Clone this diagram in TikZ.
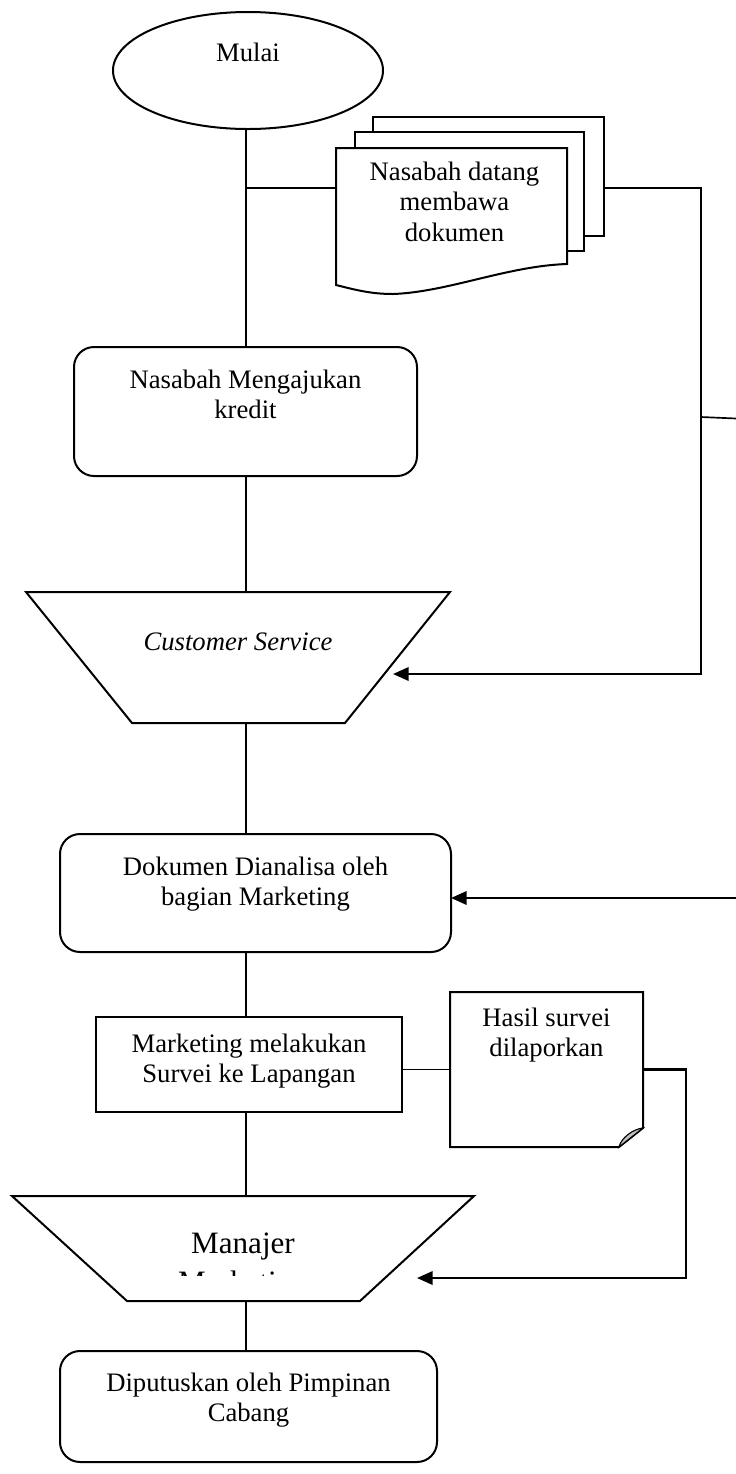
\documentclass[tikz,border=0pt]{standalone}
\usepackage{fontspec}
\setmainfont{Liberation Serif}
\usetikzlibrary{shapes.geometric, arrows.meta, positioning, calc}
\newcommand{\px}{0.45pt}
\tikzset{
    garis/.style={draw, line width=0.75pt},
    alur/.style={draw, line width=1pt, -{Triangle[length=7pt, width=6pt]}},
    bentuk/.style={draw, line width=0.9pt, fill=white, inner sep=0pt, outer sep=0pt},
    terminal/.style={bentuk, ellipse},
    proses/.style={bentuk, rectangle, rounded corners=9pt},
    kotak/.style={bentuk, rectangle},
    bingkai/.style={rectangle, inner sep=0pt, outer sep=0pt},
    lipat/.style={draw, line width=0.5pt, fill=black!25},
    teks/.style={inner sep=0pt, outer sep=0pt, align=center, font=\fontsize{12}{13.7}\selectfont}
}
\begin{document}
\begin{tikzpicture}[x=0.45pt, y=-0.45pt]
    \useasboundingbox (0,0) rectangle (736,1474);

    \node [terminal, minimum width=270*\px, minimum height=117*\px] (mulai) at (248,70.5) {};

    % tumpukan dokumen
    \node [kotak, minimum width=231*\px, minimum height=119*\px] (dokC) at (488.5,176.5) {};
    \node [kotak, minimum width=229*\px, minimum height=119*\px] (dokB) at (469.5,191.5) {};
    \node [bingkai, minimum width=231*\px, minimum height=137*\px] (dokumen) at (451.5,216.5) {};
    \draw [bentuk] (dokumen.north west) -- (dokumen.north east) -- ++(0,116)
        .. controls +(-60,2) and +(55,-2) .. ++(-174,30)
        .. controls +(-22,0) and +(20,5) .. (dokumen.south west) -- cycle;

    \node [proses, minimum width=343*\px, minimum height=129*\px] (ajukan) at (245.5,411.5) {};

    % input manual (customer service)
    \node [bingkai, minimum width=424*\px, minimum height=131*\px] (cs) at (238,657.5) {};
    \draw [bentuk] (cs.north west) -- (cs.north east) -- ($(cs.south east)+(-105,0)$)
        -- ($(cs.south west)+(106,0)$) -- cycle;

    \node [proses, minimum width=391*\px, minimum height=118*\px] (analisa) at (255.5,893) {};
    \node [kotak, minimum width=306*\px, minimum height=95*\px] (survei) at (249,1064.5) {};

    % catatan hasil survei
    \node [bingkai, minimum width=193*\px, minimum height=155*\px] (hasil) at (546.5,1069.5) {};
    \draw [bentuk] (hasil.north west) -- (hasil.north east) -- ++(0,136) -- ++(-24,19) -- (hasil.south west) -- cycle;
    \draw [lipat] ($(hasil.south east)+(-24,0)$) .. controls +(2,-9) and +(-10,1) .. ($(hasil.south east)+(0,-19)$) -- cycle;

    % input manual (manajer)
    \node [bingkai, minimum width=462*\px, minimum height=105*\px] (manajer) at (243,1248.5) {};
    \draw [bentuk] (manajer.north west) -- (manajer.north east) -- ($(manajer.south east)+(-114,0)$)
        -- ($(manajer.south west)+(115,0)$) -- cycle;

    \node [proses, minimum width=377*\px, minimum height=111*\px] (putus) at (248.5,1406.5) {};

    % teks
    \node [teks, below=13.95pt of mulai.north] (tMulai) {Mulai};
    \node [teks, below=6.3pt of dokumen.north, xshift=1.35pt] (tDokumen) {Nasabah datang\\membawa\\dokumen};
    \node [teks, below=10.35pt of ajukan.north] (tAjukan) {Nasabah Mengajukan\\kredit};
    \node [teks, font=\fontsize{12}{13.7}\selectfont\itshape, below=18.45pt of cs.north] (tCs) {Customer Service};
    \node [teks, below=10.35pt of analisa.north] (tAnalisa) {Dokumen Dianalisa oleh\\bagian Marketing};
    \node [teks, below=7.65pt of survei.north] (tSurvei) {Marketing melakukan\\Survei ke Lapangan};
    \node [teks, below=7.2pt of hasil.north] (tHasil) {Hasil survei\\dilaporkan};
    \begin{scope}
        \clip (0,1190) rectangle (736,1275.5);
        \node [teks, font=\fontsize{14}{17.5}\selectfont, below=16.65pt of manajer.north] (tManajer) {Manajer\\Marketing};
    \end{scope}
    \node [teks, below=9.9pt of putus.north] (tPutus) {Diputuskan oleh Pimpinan\\Cabang};

    % garis
    \coordinate (sumbu) at (246,0);
    \coordinate (cabang) at (246,188);
    \coordinate (kanan) at (701,417);
    \coordinate (luar1) at (736,418.5);
    \coordinate (luar2) at (736,898);
    \draw [garis] (sumbu |- mulai.south) -- (sumbu |- ajukan.north);
    \draw [garis] (cabang) -- (cabang -| dokumen.west);
    \draw [alur] (cabang -| dokC.east) -| (kanan) |- ($(cs.south east)+(-57,-49)$);
    \draw [garis] (luar1) -- (kanan);
    \draw [garis] (sumbu |- ajukan.south) -- (sumbu |- cs.north);
    \draw [garis] (sumbu |- cs.south) -- (sumbu |- analisa.north);
    \draw [alur] (luar2) -- (luar2 -| analisa.east);
    \draw [garis] (sumbu |- analisa.south) -- (sumbu |- survei.north);
    \draw [garis] (hasil.west) -- (hasil.west -| survei.east);
    \draw [alur] (hasil.east) -- ++(43,0) |- ($(manajer.south east)+(-57,-23)$);
    \draw [garis] (sumbu |- survei.south) -- (sumbu |- manajer.north);
    \draw [garis] (sumbu |- manajer.south) -- (sumbu |- putus.north);
\end{tikzpicture}
\end{document}
